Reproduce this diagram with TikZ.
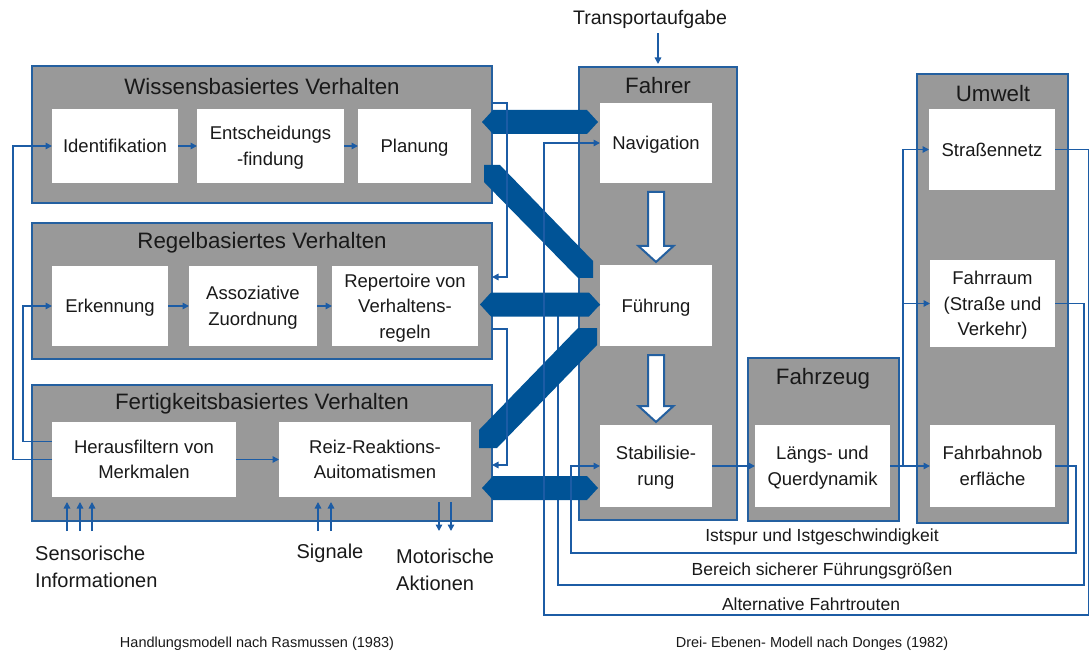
\documentclass[tikz,border=0pt]{standalone}
\usepackage{fontspec}
\setmainfont{Liberation Sans}
\usetikzlibrary{calc,arrows.meta}

\definecolor{panelgray}{RGB}{153,153,153}
\definecolor{rimblue}{RGB}{36,96,160}
\definecolor{lineblue}{RGB}{28,92,165}
\definecolor{bandblue}{RGB}{0,83,150}
\definecolor{inktext}{RGB}{25,25,25}

\tikzset{
  panel/.style={fill=panelgray, draw=rimblue, line width=2pt, anchor=north west, inner sep=0pt, outer sep=0pt},
  cell/.style={fill=white, draw=none, anchor=north west, inner sep=0pt, outer sep=0pt, align=center,
               text depth=0pt, text=inktext, font=\fontsize{18.5}{25.5}\selectfont},
  heading/.style={font=\fontsize{22.3}{26}\selectfont, inner sep=0pt, text=inktext},
  flow/.style={draw=lineblue, line width=1.5pt, -{Triangle[length=6.5pt,width=6.5pt]}},
  band/.style={fill=bandblue},
  hollow/.style={fill=white, draw=rimblue, line width=2pt, line join=miter},
  tag/.style={font=\fontsize{17.5}{20}\selectfont, inner sep=0pt, text=inktext},
  io/.style={font=\fontsize{20}{27}\selectfont, inner sep=0pt, align=left, text=inktext},
  caption/.style={font=\fontsize{14.5}{17}\selectfont, inner sep=0pt, text=inktext},
}

% double-headed horizontal band between two points on one level
\newcommand\dblband[2]{%
  \fill[band] (#1) -- ($(#1)+(11,-12)$) -- ($(#2)+(-11,-12)$) -- (#2)
    -- ($(#2)+(-11,12)$) -- ($(#1)+(11,12)$) -- cycle;}
% hollow downward arrow from the bottom of one cell to the top of the next
\newcommand\hollowdown[2]{%
  \draw[hollow] ($(#1)+(-8,9)$) -- ($(#1)+(8,9)$) -- ($(#2)+(8,-19)$) -- ($(#2)+(17.5,-19)$)
    -- ($(#2)+(0,-3)$) -- ($(#2)+(-17.5,-19)$) -- ($(#2)+(-8,-19)$) -- cycle;}

\begin{document}
\begin{tikzpicture}[x=1pt,y=-1pt]
\useasboundingbox (0,0) rectangle (1089,652);

% ---------------- Rasmussen: three behaviour levels ----------------
\node[panel, minimum width=460pt, minimum height=137pt] (wiss) at (32,66) {};
\node[heading] (wisst) at (262,87) {Wissensbasiertes Verhalten};
\node[cell, minimum width=126pt, minimum height=74pt] (ident) at (52,109) {Identifikation};
\node[cell, minimum width=147pt, minimum height=74pt] (entsch) at (197,109) {Entscheidungs\\-findung};
\node[cell, minimum width=113pt, minimum height=74pt] (plan) at (358,109) {Planung};

\node[panel, minimum width=460pt, minimum height=136pt] (regel) at (32,223) {};
\node[heading] (regelt) at (262,243) {Regelbasiertes Verhalten};
\node[cell, minimum width=116pt, minimum height=80pt] (erk) at (52,266) {Erkennung};
\node[cell, minimum width=128pt, minimum height=80pt] (asso) at (189,266) {Assoziative\\Zuordnung};
\node[cell, minimum width=146pt, minimum height=80pt] (rep) at (332,266) {Repertoire von\\Verhaltens-\\regeln};

\node[panel, minimum width=460pt, minimum height=136pt] (fert) at (32,385) {};
\node[heading] (fertt) at (262,404) {Fertigkeitsbasiertes Verhalten};
\node[cell, minimum width=184pt, minimum height=75pt] (filt) at (52,422) {Herausfiltern von\\Merkmalen};
\node[cell, minimum width=192pt, minimum height=75pt] (reiz) at (279,422) {Reiz-Reaktions-\\Auitomatismen};

% ---------------- Donges: driver, vehicle, environment ----------------
\node[panel, minimum width=158pt, minimum height=453pt] (fahrer) at (579,67) {};
\node[heading] (fahrert) at (658,86) {Fahrer};
\node[cell, minimum width=112pt, minimum height=80pt] (nav) at (600,103) {Navigation};
\node[cell, minimum width=112pt, minimum height=81pt] (fuehr) at (600,265) {Führung};
\node[cell, minimum width=112pt, minimum height=82pt] (stab) at (600,425) {Stabilisie-\\rung};

\node[panel, minimum width=151pt, minimum height=163pt] (fzg) at (748,358) {};
\node[heading] (fzgt) at (823,379) {Fahrzeug};
\node[cell, minimum width=135pt, minimum height=82pt] (laengs) at (755,425) {Längs- und\\Querdynamik};

\node[panel, line width=2.6pt, minimum width=151pt, minimum height=449pt] (umwelt) at (917,74) {};
\node[heading] (umweltt) at (993,94) {Umwelt};
\node[cell, minimum width=126pt, minimum height=81pt] (strnetz) at (929,109) {Straßennetz};
\node[cell, minimum width=125pt, minimum height=87pt] (fraum) at (930,260) {Fahrraum\\(Straße und\\Verkehr)};
\node[cell, minimum width=125pt, minimum height=82pt] (fbahn) at (930,425) {Fahrbahnob\\erfläche};

% feedback of the guidance quantities (its head lies under the band)
\draw[flow] (fraum.east) -| (1084,585) -- (558,585) |- (fuehr.west);

% ---------------- broad coupling bands ----------------
\coordinate (b1l) at (482,122);  \coordinate (b1r) at (598,122);
\coordinate (b2l) at (480,304.5);\coordinate (b2r) at (600,304.5);
\coordinate (b3l) at (482,488);  \coordinate (b3r) at (598,488);
\dblband{b1l}{b1r}
\dblband{b2l}{b2r}
\dblband{b3l}{b3r}
\fill[band] (484,165) -- (500,165) -- (593,261) -- (593,278) -- (578,278) -- (484,182) -- cycle;
\fill[band] (479,430) -- (578,328) -- (597,328) -- (597,345) -- (497,448) -- (479,448) -- cycle;

\hollowdown{nav.south}{fuehr.north}
\hollowdown{fuehr.south}{stab.north}

% ---------------- flows inside the levels ----------------
\draw[flow] (ident.east) -- (entsch.west);
\draw[flow] (entsch.east) -- (plan.west);
\draw[flow] (erk.east) -- (asso.west);
\draw[flow] (asso.east) -- (rep.west);
\draw[flow] (filt.east) -- (reiz.west);

\draw[flow] (filt.west) -- ++(-39,0) |- (ident.west);
\draw[flow] ($(filt.west)+(0,-18)$) -- ++(-29,0) |- (erk.west);
\draw[flow] ($(wiss.north east)+(0,37)$) -- ++(15,0) |- ($(regel.north east)+(0,54)$);
\draw[flow] ($(regel.north east)+(0,106)$) -- ++(15,0) |- ($(fert.north east)+(0,80)$);

% inputs and outputs of the skill level
\coordinate (s1) at (67,531);  \coordinate (s2) at (80,531);  \coordinate (s3) at (92,531);
\coordinate (g1) at (318,531); \coordinate (g2) at (331,531);
\coordinate (m1) at (439,531); \coordinate (m2) at (451,531);
\foreach \p in {s1,s2,s3,g1,g2}
  \draw[flow, shorten >=5pt] (\p) -- (\p |- filt.south);
\foreach \p in {m1,m2}
  \draw[flow, shorten <=5pt] (\p |- reiz.south) -- (\p);

\node[io, anchor=west] (sens) at (35,566.5) {Sensorische\\Informationen};
\node[io] (sig) at (330,553) {Signale};
\node[io, anchor=west] (mot) at (396,569.5) {Motorische\\Aktionen};

% ---------------- flows of the three-level model ----------------
\node[font=\fontsize{19.6}{22}\selectfont, inner sep=0pt, text=inktext] (trans) at (650,19) {Transportaufgabe};
\draw[flow, shorten <=5pt, shorten >=3pt] (trans.south -| fahrer.north) -- (fahrer.north);

\draw[flow] (stab.east) -- (laengs.west);
\draw[flow] (laengs.east) -- (fbahn.west);
\coordinate (split) at (903,466);
\draw[flow] (split) |- (strnetz.west);
\draw[flow] (split) |- (fraum.west);

\draw[flow] (fbahn.east) -| (1076,553) -- (571,553) |- (stab.west);
\draw[flow] (strnetz.east) -| (1088.5,615) -- (544,615) |- (nav.west);

\node[tag] (ist) at (822,537) {Istspur und Istgeschwindigkeit};
\node[tag] (ber) at (822,571) {Bereich sicherer Führungsgrößen};
\node[tag] (alt) at (811,604) {Alternative Fahrtrouten};

% ---------------- captions ----------------
\node[caption] (capl) at (257,644) {Handlungsmodell nach Rasmussen (1983)};
\node[caption] (capr) at (812,644) {Drei- Ebenen- Modell nach Donges (1982)};
\end{tikzpicture}
\end{document}
